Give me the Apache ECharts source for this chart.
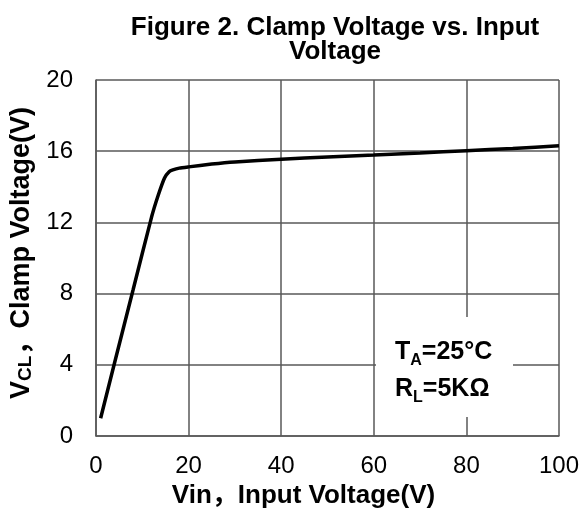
<!DOCTYPE html>
<html>
<head>
<meta charset="utf-8">
<script src="https://cdn.jsdelivr.net/npm/echarts@6/dist/echarts.min.js"></script>
<style>
  html, body { margin: 0; padding: 0; background: #fff; }
  #mycharts { width: 584px; height: 515px; }
</style>
</head>
<body>
<div id="mycharts"></div>
<script>
// data
var vin = [1, 4, 8, 12, 13.4, 14.8, 15.8, 16.6, 18, 20, 25, 30, 40, 50, 60, 70, 80, 90, 100];
var vcl = [1.0, 4.1, 8.2, 12.3, 13.5, 14.5, 14.85, 14.95, 15.05, 15.12, 15.28, 15.4, 15.55, 15.67, 15.78, 15.9, 16.03, 16.15, 16.3];
var xTicks = [0, 20, 40, 60, 80, 100];
var yTicks = [0, 4, 8, 12, 16, 20];

var FONT = "'Liberation Sans', Arial, 'Noto Sans CJK SC', sans-serif";
var GRIDC = "#595959";

var mycharts = echarts.init(document.getElementById("mycharts"));

// bold text + lowered subscript
var annoRich = {
  b: { fontFamily: FONT, fontSize: 25, fontWeight: "bold", fill: "#000", verticalAlign: "bottom", lineHeight: 30, padding: [0, 0, 4, 0] },
  s: { fontFamily: FONT, fontSize: 16, fontWeight: "bold", fill: "#000", verticalAlign: "bottom", lineHeight: 20 }
};

var option = {
  animation: false,
  title: {
    text: "Figure 2. Clamp Voltage vs. Input\nVoltage",
    left: 330,
    top: 11,
    textAlign: "center",
    textStyle: {
      fontFamily: FONT,
      fontSize: 26,
      fontWeight: "bold",
      color: "#000",
      lineHeight: 24
    }
  },
  grid: {
    left: 96,
    right: 25,
    top: 80,
    bottom: 79
  },
  xAxis: {
    type: "value",
    min: xTicks[0],
    max: xTicks[xTicks.length - 1],
    interval: 20,
    name: "Vin，Input Voltage(V)",
    nameLocation: "middle",
    nameGap: 42,
    nameTextStyle: { fontFamily: FONT, fontSize: 26, fontWeight: "bold", color: "#000", padding: [0, 48, 0, 0] },
    axisLine: { lineStyle: { color: GRIDC, width: 1.5 } },
    axisTick: { show: false },
    axisLabel: { fontFamily: FONT, fontSize: 24, color: "#000", margin: 18 },
    splitLine: { show: true, lineStyle: { color: GRIDC, width: 1.5 } }
  },
  yAxis: {
    type: "value",
    min: yTicks[0],
    max: yTicks[yTicks.length - 1],
    interval: 4,
    name: "{v|V}{s|CL}{n|，Clamp Voltage(V)}",
    nameLocation: "middle",
    nameGap: 60,
    nameTextStyle: {
      fontFamily: FONT,
      fontWeight: "bold",
      color: "#000",
      padding: [0, 0, 0, 10],
      rich: {
        v: { fontFamily: FONT, fontSize: 27, fontWeight: "bold", color: "#000", verticalAlign: "bottom" },
        s: { fontFamily: FONT, fontSize: 19, fontWeight: "bold", color: "#000", verticalAlign: "bottom" },
        n: { fontFamily: FONT, fontSize: 27, fontWeight: "bold", color: "#000", verticalAlign: "bottom" }
      }
    },
    axisLine: { show: true, lineStyle: { color: GRIDC, width: 1.5 } },
    axisTick: { show: false },
    axisLabel: { fontFamily: FONT, fontSize: 24, color: "#000", margin: 23 },
    splitLine: { show: true, lineStyle: { color: GRIDC, width: 1.5 } }
  },
  graphic: [
    {
      type: "rect",
      z: 10,
      shape: { x: 376, y: 317, width: 137, height: 100 },
      style: { fill: "#fff" }
    },
    {
      type: "text",
      z: 11,
      x: 395,
      y: 354,
      style: { text: "{b|T}{s|A}{b|=25°C}", verticalAlign: "middle", rich: annoRich }
    },
    {
      type: "text",
      z: 11,
      x: 395,
      y: 391,
      style: { text: "{b|R}{s|L}{b|=5KΩ}", verticalAlign: "middle", rich: annoRich }
    }
  ],
  series: [
    {
      type: "line",
      data: vin.map(function (x, i) { return [x, vcl[i]]; }),
      showSymbol: false,
      smooth: 0.15,
      lineStyle: { color: "#000", width: 3.5 }
    }
  ]
};
mycharts.setOption(option);
</script>
</body>
</html>
